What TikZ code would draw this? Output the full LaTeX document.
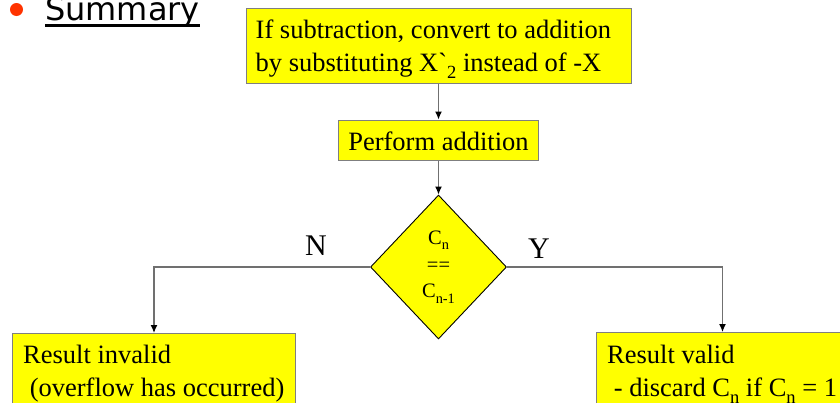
\documentclass[tikz,border=0pt]{standalone}
\usepackage{fontspec}
\usepackage{graphicx}
\setmainfont{Liberation Serif}
\newfontfamily\sumfont{DejaVu Sans}
\usetikzlibrary{shapes.geometric,arrows.meta,calc}
\newcommand\lowsub[1]{\raisebox{-0.27em}{\scalebox{0.7}{#1}}}
\definecolor{boxyellow}{HTML}{FFFF00}
\definecolor{boxedge}{HTML}{7F7F7F}
\definecolor{lineg}{HTML}{707070}
\definecolor{bulletred}{HTML}{FF3300}
\tikzset{
  flowbox/.style={draw=boxedge, line width=1pt, fill=boxyellow, inner sep=0pt},
  boxtext/.style={inner sep=0pt, align=left, font=\fontsize{26.5}{33}\selectfont},
  decide/.style={diamond, draw=black, line width=0.9pt, fill=boxyellow, inner sep=0pt,
    minimum width=136pt, minimum height=144pt, align=center,
    font=\fontsize{20.5}{26.7}\selectfont},
  conn/.style={draw=lineg, line width=1.2pt, -{Latex[length=8pt,width=7pt,color=black]}},
  yn/.style={inner sep=0pt, font=\fontsize{30}{32}\selectfont}
}
\begin{document}
\begin{tikzpicture}[x=1pt,y=-1pt]
\useasboundingbox (0,0) rectangle (840,402);
\clip (0,0) rectangle (840,402);
% bullet and title
\fill[bulletred] (16.5,9.5) circle (6.5);
\node[anchor=base west, inner sep=0pt, font=\sumfont\fontsize{32}{34}\selectfont] (sum) at (45,20) {Summary};
\draw[line width=2.7pt] ($(sum.base west)+(0,5.5)$) -- ($(sum.base east)+(0,5.5)$);
% top box
\node[flowbox, minimum width=385pt, minimum height=75pt] (conv) at (438.5,45.5) {};
\node[boxtext, anchor=north west] (convt) at ($(conv.north west)+(10,12)$)
  {If subtraction, convert to addition\\by substituting X\textasciigrave\lowsub{2} instead of -X};
% perform addition
\node[flowbox, minimum width=200pt, minimum height=40pt] (add) at (438.5,140) {};
\node[boxtext] (addt) at ($(add.center)+(0,1)$) {Perform addition};
% diamond
\node[decide] (dec) at (438.5,267) {C\lowsub{n}\\==\\C\lowsub{n-1}};
% bottom boxes
\node[flowbox, anchor=north west, minimum width=283pt, minimum height=90pt] (inv) at (12,333) {};
\node[boxtext, anchor=north west] (invt) at ($(inv.north west)+(11,12)$)
  {Result invalid\\\hspace*{6.6pt}(overflow has occurred)};
\node[flowbox, anchor=north west, minimum width=252pt, minimum height=90pt] (val) at (596,332) {};
\node[boxtext, anchor=north west] (valt) at ($(val.north west)+(11,13)$)
  {Result valid\\\hspace*{6.6pt}- discard C\lowsub{n} if C\lowsub{n} = 1};
% connectors
\draw[conn] (conv.south) -- (add.north);
\draw[conn] (add.south) -- (dec.north);
\draw[conn] (dec.west) -| (inv.north);
\draw[conn] (dec.east) -| (val.north);
% labels
\node[yn] (nlab) at (316,246) {N};
\node[yn] (ylab) at (539,249) {Y};
\end{tikzpicture}
\end{document}
